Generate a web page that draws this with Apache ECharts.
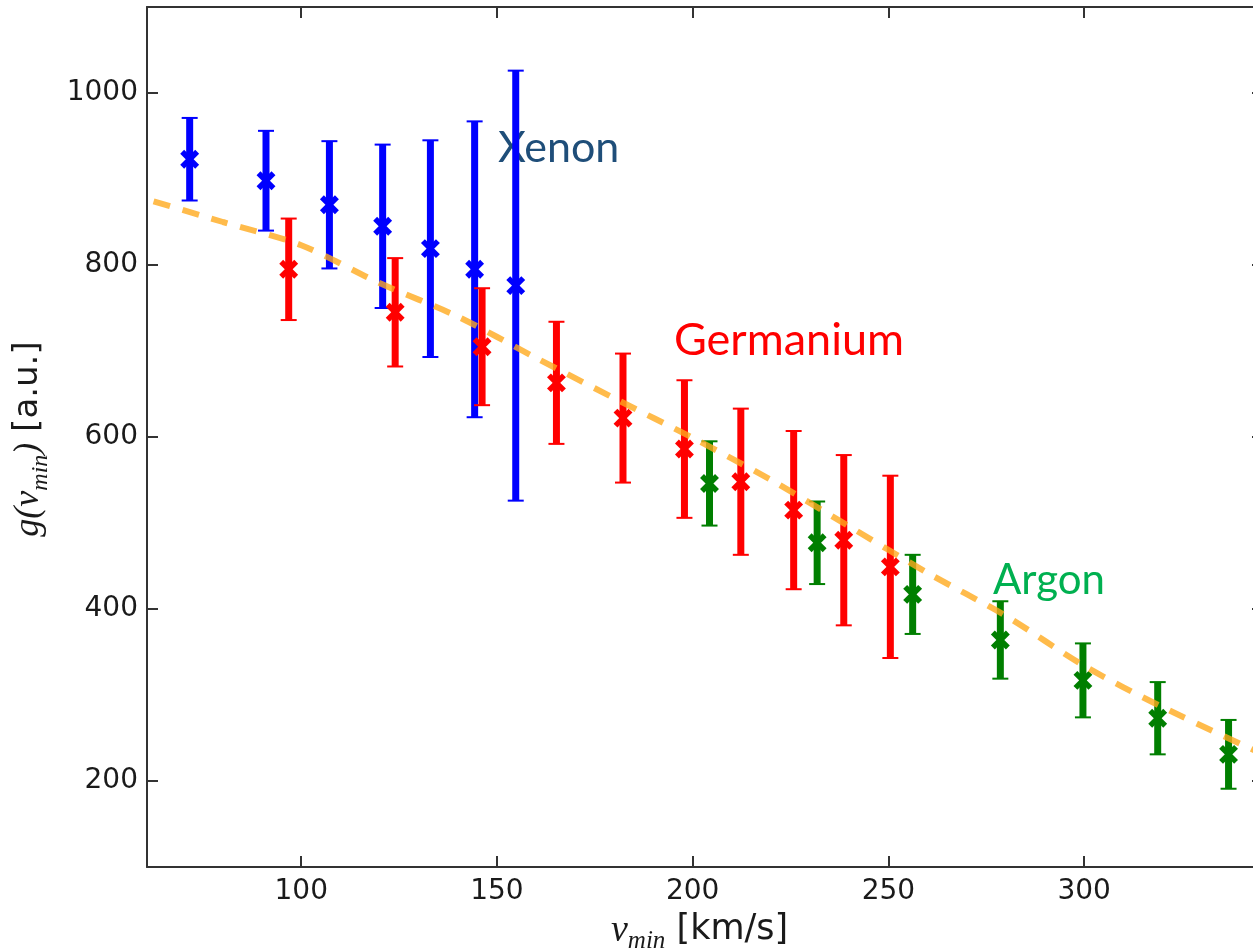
<!DOCTYPE html>
<html>
<head>
<meta charset="utf-8">
<title>g(v_min) vs v_min</title>
<script src="https://cdn.jsdelivr.net/npm/echarts@6/dist/echarts.min.js"></script>
<style>
  html, body { margin: 0; padding: 0; background: #fff; overflow: hidden; }
  /* the frame's right spine sits just past the visible edge */
  #chart { width: 1263px; height: 948px; }
</style>
</head>
<body>
<div id="chart"></div>
<script>
// Xenon measurements: v_min [km/s], g(v_min) [a.u.], symmetric error
const xenonV   = [71.5, 91, 107.2, 120.8, 133, 144.3, 154.8];
const xenonG   = [923, 898, 870, 845, 819, 795, 776];
const xenonErr = [48, 58, 74, 95, 126, 172, 250];

// Germanium measurements
const germaniumV   = [96.8, 124, 146.2, 165.2, 182.2, 197.9, 212.3, 225.8, 238.6, 250.5];
const germaniumG   = [795, 745, 705, 663, 622, 586, 548, 515, 480, 449];
const germaniumErr = [59, 63, 68, 71, 75, 80, 85, 92, 99, 106];

// Argon measurements
const argonV   = [204.3, 231.8, 256.2, 278.6, 299.7, 318.8, 336.9];
const argonG   = [546, 477, 417, 364, 317, 273, 231];
const argonErr = [49, 48, 46, 45, 43, 42, 40];

// Underlying halo curve (dashed)
const curveV = [55, 80, 100, 120, 140, 160, 180, 200, 220, 240, 260, 280, 300, 320, 350];
const curveG = [884, 850, 823, 779, 740, 692, 645, 599, 550, 496, 442, 392, 334, 286, 222];

// Tick labels
const xTicks = [100, 150, 200, 250, 300];
const yTicks = [200, 400, 600, 800, 1000];

const X_MIN = 60.6, X_MAX = 345.7;
const Y_MIN = 100, Y_MAX = 1100;

const spine = '#333333';
const tickFont = { fontFamily: 'DejaVu Sans', fontSize: 28, color: '#1a1a1a' };

function rows(v, g, e) {
  return v.map((x, i) => [x, g[i], e[i]]);
}

// Error bar with caps and an "x" marker at the central value
function errorBar(color) {
  return function (params, api) {
    const x = api.value(0), y = api.value(1), e = api.value(2);
    const c = api.coord([x, y]);
    const hi = api.coord([x, y + e]);
    const lo = api.coord([x, y - e]);
    const cap = 8, m = 7.5;
    return {
      type: 'group',
      children: [
        { type: 'line', shape: { x1: c[0], y1: hi[1], x2: c[0], y2: lo[1] },
          style: { stroke: color, lineWidth: 7 } },
        { type: 'line', shape: { x1: c[0] - cap, y1: hi[1], x2: c[0] + cap, y2: hi[1] },
          style: { stroke: color, lineWidth: 2 } },
        { type: 'line', shape: { x1: c[0] - cap, y1: lo[1], x2: c[0] + cap, y2: lo[1] },
          style: { stroke: color, lineWidth: 2 } },
        { type: 'line', shape: { x1: c[0] - m, y1: c[1] - m, x2: c[0] + m, y2: c[1] + m },
          style: { stroke: color, lineWidth: 5.5 } },
        { type: 'line', shape: { x1: c[0] - m, y1: c[1] + m, x2: c[0] + m, y2: c[1] - m },
          style: { stroke: color, lineWidth: 5.5 } }
      ]
    };
  };
}

const plainNumber = (v) => String(v);

function xAxisDef(pos, labels) {
  return {
    type: 'value', min: X_MIN, max: X_MAX, position: pos,
    axisLine: { show: true, onZero: false, lineStyle: { color: spine, width: 2 } },
    axisTick: { show: true, inside: true, length: 11, customValues: xTicks,
                lineStyle: { color: spine, width: 2 } },
    axisLabel: labels
      ? Object.assign({ show: true, customValues: xTicks, margin: 11, formatter: plainNumber }, tickFont)
      : { show: false },
    splitLine: { show: false }
  };
}

function yAxisDef(pos, labels) {
  return {
    type: 'value', min: Y_MIN, max: Y_MAX, position: pos,
    axisLine: { show: true, onZero: false, lineStyle: { color: spine, width: 2 } },
    axisTick: { show: true, inside: true, length: 11, customValues: yTicks,
                lineStyle: { color: spine, width: 2 } },
    axisLabel: labels
      ? Object.assign({ show: true, customValues: yTicks, margin: 9, formatter: plainNumber }, tickFont)
      : { show: false },
    splitLine: { show: false }
  };
}

const chart = echarts.init(document.getElementById('chart'), null, { renderer: 'canvas' });

chart.setOption({
  animation: false,
  backgroundColor: '#ffffff',
  grid: { left: 147, top: 7, bottom: 81, right: 0, containLabel: false },
  xAxis: [xAxisDef('bottom', true), xAxisDef('top', false)],
  yAxis: [yAxisDef('left', true), yAxisDef('right', false)],
  graphic: [
    { type: 'text', left: 498, top: 127, z: 1,
      style: { text: 'Xenon', fill: '#1F4E79', font: '43px Lato' } },
    { type: 'text', left: 674, top: 318, z: 1,
      style: { text: 'Germanium', fill: '#FF0000', font: '45px Lato' } },
    { type: 'text', left: 993, top: 559, z: 1,
      style: { text: 'Argon', fill: '#00B050', font: '42px Lato' } },
    // x-axis title
    { type: 'text', left: 611, top: 912, z: 1,
      style: {
        text: '{v|v}{s|min}{u| [km/s]}',
        rich: {
          v: { fontFamily: 'Liberation Serif', fontStyle: 'italic', fontSize: 38, fill: '#1a1a1a',
               lineHeight: 34, verticalAlign: 'top' },
          s: { fontFamily: 'Liberation Serif', fontStyle: 'italic', fontSize: 25, fill: '#1a1a1a',
               lineHeight: 42, verticalAlign: 'bottom' },
          u: { fontFamily: 'DejaVu Sans', fontSize: 35, fill: '#1a1a1a',
               lineHeight: 34, verticalAlign: 'top' }
        }
      } },
    // y-axis title
    { type: 'text', x: 32, y: 439, rotation: Math.PI / 2, z: 1,
      style: {
        text: '{g|g(}{v|v}{s|min}{g|)}{u| [a.u.]}',
        align: 'center', verticalAlign: 'middle',
        rich: {
          g: { fontFamily: 'Liberation Serif', fontStyle: 'italic', fontSize: 36, fill: '#1a1a1a',
               lineHeight: 34, verticalAlign: 'top' },
          v: { fontFamily: 'Liberation Serif', fontStyle: 'italic', fontSize: 36, fill: '#1a1a1a',
               lineHeight: 34, verticalAlign: 'top' },
          s: { fontFamily: 'Liberation Serif', fontStyle: 'italic', fontSize: 24, fill: '#1a1a1a',
               lineHeight: 42, verticalAlign: 'bottom' },
          u: { fontFamily: 'DejaVu Sans', fontSize: 34, fill: '#1a1a1a',
               lineHeight: 34, verticalAlign: 'top' }
        }
      } }
  ],
  series: [
    { name: 'Xenon', type: 'custom', z: 3, xAxisIndex: 0, yAxisIndex: 0,
      renderItem: errorBar('#0000FF'), data: rows(xenonV, xenonG, xenonErr), clip: true },
    { name: 'Germanium', type: 'custom', z: 4, xAxisIndex: 0, yAxisIndex: 0,
      renderItem: errorBar('#FF0000'), data: rows(germaniumV, germaniumG, germaniumErr), clip: true },
    { name: 'Argon', type: 'custom', z: 5, xAxisIndex: 0, yAxisIndex: 0,
      renderItem: errorBar('#007F00'), data: rows(argonV, argonG, argonErr), clip: true },
    { name: 'curve', type: 'line', z: 6, xAxisIndex: 0, yAxisIndex: 0,
      data: curveV.map((v, i) => [v, curveG[i]]),
      smooth: 0.3, showSymbol: false, symbol: 'none', clip: true,
      lineStyle: { color: 'rgba(255,170,30,0.8)', width: 6, type: [17, 13] } }
  ]
});
</script>
</body>
</html>
